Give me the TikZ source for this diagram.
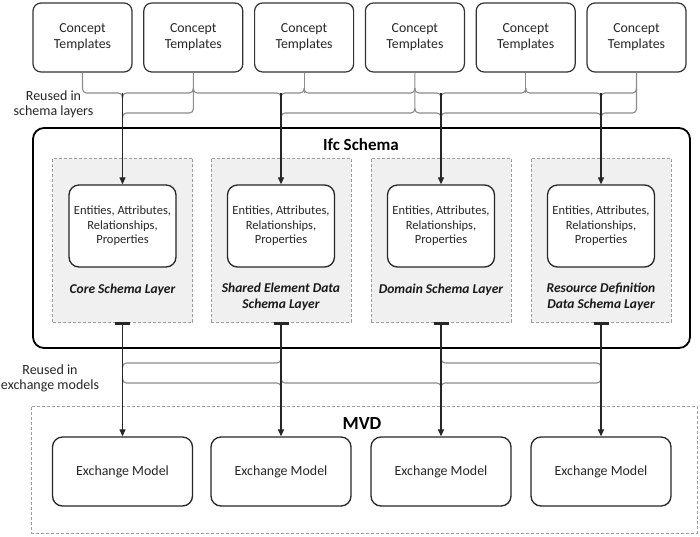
\documentclass[tikz,border=0pt]{standalone}
\usepackage{fontspec}
\setmainfont{Carlito}
\usetikzlibrary{arrows.meta,calc}
\newcommand\bseg[5]{\draw[brace] ($(#1 |- #5)+(0,#2)$) -- (#1 |- #5) -- (#3 |- #5) -- ($(#3 |- #5)+(0,#4)$);}
\begin{document}
\begin{tikzpicture}[x=1pt,y=-1pt,
  cbox/.style={draw=black!80,line width=1.2pt,rounded corners=8pt,minimum width=99pt,minimum height=69pt,align=center,font=\fontsize{13.8}{16}\selectfont,inner sep=0pt,fill=white,text=black!85},
  layerbox/.style={draw=black!38,dash pattern=on 3pt off 2pt,fill=black!6,minimum width=140pt,minimum height=164pt,inner sep=0pt,line width=0.8pt},
  ebox/.style={draw=black!85,line width=1.3pt,rounded corners=10pt,minimum width=107pt,minimum height=82pt,align=center,font=\fontsize{12.5}{14.5}\selectfont,fill=white,inner sep=0pt,text=black!85},
  mbox/.style={draw=black!85,line width=1.3pt,rounded corners=10pt,minimum width=140pt,minimum height=69pt,font=\fontsize{13.9}{16}\selectfont,fill=white,inner sep=0pt,text=black!85},
  lbl/.style={font=\fontsize{13.5}{16}\selectfont\bfseries\itshape,align=center,inner sep=0pt,text=black!90},
  rlbl/.style={font=\fontsize{14}{15.5}\selectfont,align=center,inner sep=0pt,text=black!85},
  brace/.style={draw=black!45,line width=1.1pt,rounded corners=4pt},
  gline/.style={draw=black!45,line width=1.1pt},
  arr/.style={draw=black!85,line width=1.2pt,-{Triangle[length=7pt,width=6pt]}},
  tarr/.style={draw=black!85,line width=1.2pt,{Bar[width=15pt,line width=2.4pt]}-{Triangle[length=7pt,width=6pt]}},
]
\useasboundingbox (0,0) rectangle (700,536);
\fill[white] (0,0) rectangle (700,536);

% Ifc schema frame
\node[draw=black,line width=1.8pt,rounded corners=11pt,minimum width=657pt,minimum height=220pt,inner sep=0pt] (ifc) at (361.5,238) {};
\node[font=\fontsize{17}{20}\selectfont\bfseries,inner sep=0pt] (ifct) at (361,145) {Ifc Schema};

% schema layers
\node[layerbox] (p1) at (122.5,240) {};
\node[layerbox] (p2) at (281,240) {};
\node[layerbox] (p3) at (441,240) {};
\node[layerbox] (p4) at (601,240) {};
\foreach \i in {1,2,3,4}{
  \node[ebox] (e\i) at (p\i |- 0,226) {Entities, Attributes,\\Relationships,\\Properties};
}
\node[lbl] (l1) at (p1 |- 0,290) {Core Schema Layer};
\node[lbl] (l2) at (p2 |- 0,297) {Shared Element Data\\Schema Layer};
\node[lbl] (l3) at (p3 |- 0,290) {Domain Schema Layer};
\node[lbl] (l4) at (p4 |- 0,297) {Resource Definition\\Data Schema Layer};

% concept templates
\foreach \i in {1,...,6}{
  \node[cbox] (c\i) at ({82.5+110.8*(\i-1)},37.5) {Concept\\Templates};
}

% MVD
\node[draw=black!38,dash pattern=on 3pt off 2pt,line width=0.8pt,minimum width=666pt,minimum height=127pt,inner sep=0pt] (mvd) at (364,469.5) {};
\node[font=\fontsize{18.5}{20}\selectfont\bfseries,inner sep=0pt] (mvdt) at (362,423) {MVD};
\foreach \i in {1,2,3,4}{
  \node[mbox] (m\i) at (p\i |- 0,471.5) {Exchange Model};
}

% side labels
\node[rlbl] (r1) at (53.5,104.5) {Reused in\\schema layers};
\node[rlbl] (r2) at (50,378.5) {Reused in\\exchange models};

% brace line levels
\coordinate (u1) at (0,93);
\coordinate (u2) at (0,113);
\coordinate (d1) at (0,363);
\coordinate (d2) at (0,383);

% upper brace line
\draw[brace] (c1.south) -- (c1 |- u1) -- (p1 |- u1) -- ($(p1 |- u1)+(0,5)$);
\bseg{p1}{5}{c2}{-5}{u1}
\bseg{c2}{-5}{p2}{5}{u1}
\bseg{p2}{5}{c3}{-5}{u1}
\bseg{c3}{-5}{c4}{-5}{u1}
\bseg{c4}{-5}{p3}{5}{u1}
\bseg{p3}{5}{c5}{-5}{u1}
\bseg{c5}{-5}{p4}{5}{u1}
\bseg{p4}{5}{c6}{-5}{u1}
\draw[gline] (c3.south) -- (c3 |- u1);
\draw[gline] (c5.south) -- (c5 |- u1);

% second brace line
\draw[brace] ($(p1 |- u2)+(0,5)$) -- (p1 |- u2) -- (c2 |- u2) -- (c2.south);
\draw[brace] ($(p2 |- u2)+(0,5)$) -- (p2 |- u2) -- (c4 |- u2) -- (c4.south);
\bseg{c4}{-5}{p3}{5}{u2}
\bseg{p3}{5}{p4}{5}{u2}
\draw[brace] ($(p4 |- u2)+(0,5)$) -- (p4 |- u2) -- (c6 |- u2) -- (c6.south);

% arrows into layers
\foreach \i in {1,2,3,4}{
  \draw[arr] (p\i |- u1) -- (e\i.north);
}

% lower braces
\bseg{p1}{5}{p2}{-5}{d1}
\bseg{p3}{-5}{p4}{5}{d1}
\bseg{p1}{-5}{p2}{5}{d2}
\bseg{p2}{-5}{p3}{5}{d2}
\bseg{p3}{5}{p4}{-5}{d2}

% arrows into exchange models
\foreach \i in {1,2,3,4}{
  \draw[tarr] (p\i.south) -- (m\i.north);
}
\end{tikzpicture}
\end{document}
